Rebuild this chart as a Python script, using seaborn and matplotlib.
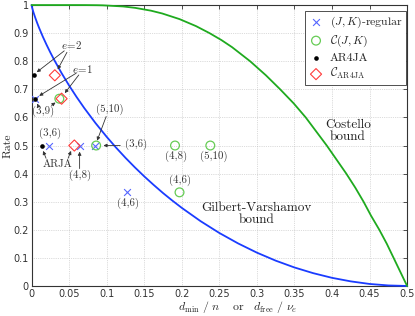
import matplotlib
matplotlib.use("Agg")
import matplotlib.pyplot as plt
import numpy as np
import seaborn as sns

# bound curves
gv_delta = [0.0, 0.0005, 0.001, 0.002, 0.003, 0.005, 0.0075, 0.01, 0.015, 0.02, 0.025,
            0.03, 0.04, 0.05, 0.06, 0.07, 0.085, 0.1, 0.1125, 0.125, 0.1375, 0.15,
            0.1625, 0.175, 0.1875, 0.2, 0.225, 0.25, 0.275, 0.3, 0.325, 0.35, 0.375,
            0.4, 0.425, 0.45, 0.475, 0.5]
gv_rate = [1.0, 0.9938, 0.9886, 0.979, 0.9705, 0.9546, 0.9363, 0.9192, 0.8876, 0.8586,
           0.8313, 0.8056, 0.7577, 0.7136, 0.6726, 0.6341, 0.5804, 0.531, 0.4926, 0.4564,
           0.4224, 0.3902, 0.3599, 0.3309, 0.3038, 0.2781, 0.2308, 0.1887, 0.1515, 0.1187,
           0.0902, 0.0659, 0.0456, 0.029, 0.0164, 0.0072, 0.0019, 0.0]
cost_delta = [0.0, 0.049, 0.058, 0.072, 0.087, 0.095, 0.122, 0.138, 0.159, 0.174, 0.197,
              0.219, 0.237, 0.253, 0.267, 0.291, 0.312, 0.331, 0.349, 0.365, 0.379,
              0.393, 0.406, 0.419, 0.431, 0.442, 0.452, 0.463, 0.473, 0.482, 0.491, 0.5]
cost_rate = [1.0, 1.0, 1.0, 0.9999, 0.9995, 0.999, 0.995, 0.99, 0.98, 0.97, 0.95,
             0.925, 0.90, 0.875, 0.85, 0.80, 0.75, 0.70, 0.65, 0.60, 0.55,
             0.50, 0.45, 0.40, 0.35, 0.30, 0.25, 0.20, 0.15, 0.10, 0.05, 0.0]

# (J,K)-regular ensembles
reg_labels = ["(3,6)", "(4,8)", "(5,10)", "(4,6)", "(3,9)"]
reg_x = [0.023, 0.064, 0.085, 0.127, 0.005]
reg_y = [0.5, 0.5, 0.5, 1 / 3, 2 / 3]

# C(J,K)
cjk_labels = ["(3,6)", "(4,8)", "(5,10)", "(4,6)", "(3,9)"]
cjk_x = [0.086, 0.191, 0.238, 0.197, 0.037]
cjk_y = [0.5, 0.5, 0.5, 1 / 3, 2 / 3]

# AR4JA protographs
ar_x = [0.003, 0.005, 0.014]
ar_y = [0.75, 2 / 3, 0.5]

# C_AR4JA
car_x = [0.031, 0.040, 0.057]
car_y = [0.75, 2 / 3, 0.5]

sns.set_style("white")
plt.rcParams["mathtext.fontset"] = "cm"
plt.rcParams["font.family"] = ["DejaVu Sans"]
serif = "cmr10"

fig = plt.figure(figsize=(4.15, 3.16), dpi=100)
ax = fig.add_axes([0.076, 0.095, 0.905, 0.889])

sns.lineplot(x=gv_delta, y=gv_rate, color="#1a3cff", lw=1.3, ax=ax, estimator=None,
             zorder=3, clip_on=False)
sns.lineplot(x=cost_delta, y=cost_rate, color="#1faa1f", lw=1.3, ax=ax, estimator=None,
             zorder=3, clip_on=False)

sns.scatterplot(x=reg_x, y=reg_y, marker="x", color="#5566ff", s=24, linewidth=0.8,
                label=r"$(J,K)$-regular", ax=ax, zorder=4)
sns.scatterplot(x=cjk_x, y=cjk_y, marker="o", facecolor="none", edgecolor="#66cc55",
                s=40, linewidth=0.9, label=r"$\mathcal{C}(J,K)$", ax=ax, zorder=4)
sns.scatterplot(x=ar_x, y=ar_y, marker="o", color="black", s=11, linewidth=0,
                label="AR4JA", ax=ax, zorder=5)
sns.scatterplot(x=car_x, y=car_y, marker="D", facecolor="none", edgecolor="#ff3a3a",
                s=32, linewidth=0.8, label=r"$\mathcal{C}_{\mathrm{AR4JA}}$", ax=ax, zorder=4)

ax.set_xlim(0, 0.5)
ax.set_ylim(0, 1)
ax.set_xticks(np.arange(0, 0.501, 0.05))
ax.set_yticks(np.arange(0, 1.001, 0.1))
ax.set_xticklabels(["0", "0.05", "0.1", "0.15", "0.2", "0.25", "0.3", "0.35", "0.4", "0.45", "0.5"])
ax.set_yticklabels(["0", "0.1", "0.2", "0.3", "0.4", "0.5", "0.6", "0.7", "0.8", "0.9", "1"])
ax.tick_params(direction="in", length=3, width=0.6, labelsize=7, pad=2,
               top=True, right=True, colors="#333333")
ax.grid(True, ls=":", lw=0.5, color="#bbbbbb")
for s in ax.spines.values():
    s.set_color("#333333")
    s.set_linewidth(0.8)
    s.set_zorder(2)

ax.set_ylabel("Rate", fontfamily=serif, fontsize=8.5)
ax.yaxis.set_label_coords(-0.05, 0.5)
ax.set_xlabel(r"$d_{\min}\ /\ n\quad\ \mathrm{or}\quad d_{\mathrm{free}}\ /\ \nu_e$",
              fontsize=8.5, labelpad=2)
ax.xaxis.set_label_coords(0.55, -0.045)
ax.xaxis.label.set_va("top")

leg = ax.legend(loc="upper right", bbox_to_anchor=(0.997, 0.978), frameon=True,
                fancybox=False, borderpad=0.3, labelspacing=0.3, handletextpad=0.5,
                handlelength=1.3, borderaxespad=0.0, prop={"family": serif, "size": 8.5})
leg.get_frame().set_edgecolor("#333333")
leg.get_frame().set_linewidth(0.6)
leg.get_frame().set_alpha(1)
leg.set_zorder(6)

tc = "#333333"
akw = dict(arrowstyle="-|>", color="#333333", lw=0.6, mutation_scale=5, shrinkA=1, shrinkB=2)
fs = 7.8


def label(x, y, txt, size=fs):
    ax.text(x, y, txt, fontsize=size, fontfamily=serif, color=tc, ha="center", va="center")


def arrow(target, start):
    ax.annotate("", xy=target, xytext=start, arrowprops=akw)


# e=2
ax.text(0.053, 0.857, r"$e\!=\!2$", fontsize=fs, color=tc, ha="center", va="center")
arrow((ar_x[0] + 0.001, ar_y[0] + 0.005), (0.045, 0.84))
arrow((car_x[0] + 0.002, car_y[0] + 0.012), (0.048, 0.836))
# e=1
ax.text(0.068, 0.772, r"$e\!=\!1$", fontsize=fs, color=tc, ha="center", va="center")
arrow((ar_x[1] + 0.002, ar_y[1] + 0.005), (0.061, 0.76))
arrow((car_x[1] + 0.002, car_y[1] + 0.012), (0.064, 0.755))
# (3,9)
label(0.016, 0.622, "(3,9)")
arrow((reg_x[4] + 0.001, reg_y[4] - 0.008), (0.009, 0.64))
arrow((cjk_x[4] - 0.002, cjk_y[4] - 0.008), (0.025, 0.64))
# (3,6) regular
label(reg_x[0] + 0.002, 0.545, "(3,6)")
# ARJA
label(0.034, 0.432, "ARJA")
arrow((ar_x[2], ar_y[2] - 0.01), (0.020, 0.45))
arrow((car_x[2] - 0.003, car_y[2] - 0.01), (0.048, 0.45))
# (4,8) regular
label(reg_x[1], 0.392, "(4,8)")
arrow((reg_x[1], reg_y[1] - 0.012), (reg_x[1], 0.413))
# (5,10) regular
label(0.104, 0.630, "(5,10)")
arrow((reg_x[2] + 0.001, reg_y[2] + 0.008), (0.1, 0.608))
# (3,6) C(J,K)
label(0.139, 0.504, "(3,6)")
arrow((cjk_x[0] + 0.006, cjk_y[0]), (0.12, 0.50))
# (4,6) regular
label(reg_x[3] + 0.001, 0.294, "(4,6)")
# C(J,K) labels
label(cjk_x[1] + 0.002, 0.462, "(4,8)")
label(cjk_x[2] + 0.004, 0.462, "(5,10)")
label(cjk_x[3], 0.377, "(4,6)")

ax.text(0.299, 0.256, "Gilbert-Varshamov\nbound", fontsize=9.5, fontfamily=serif,
        color="#222222", ha="center", va="center", linespacing=1.0)
ax.text(0.421, 0.552, "Costello\nbound", fontsize=9.5, fontfamily=serif,
        color="#222222", ha="center", va="center", linespacing=1.0)

fig.savefig("out.png", dpi=100)
